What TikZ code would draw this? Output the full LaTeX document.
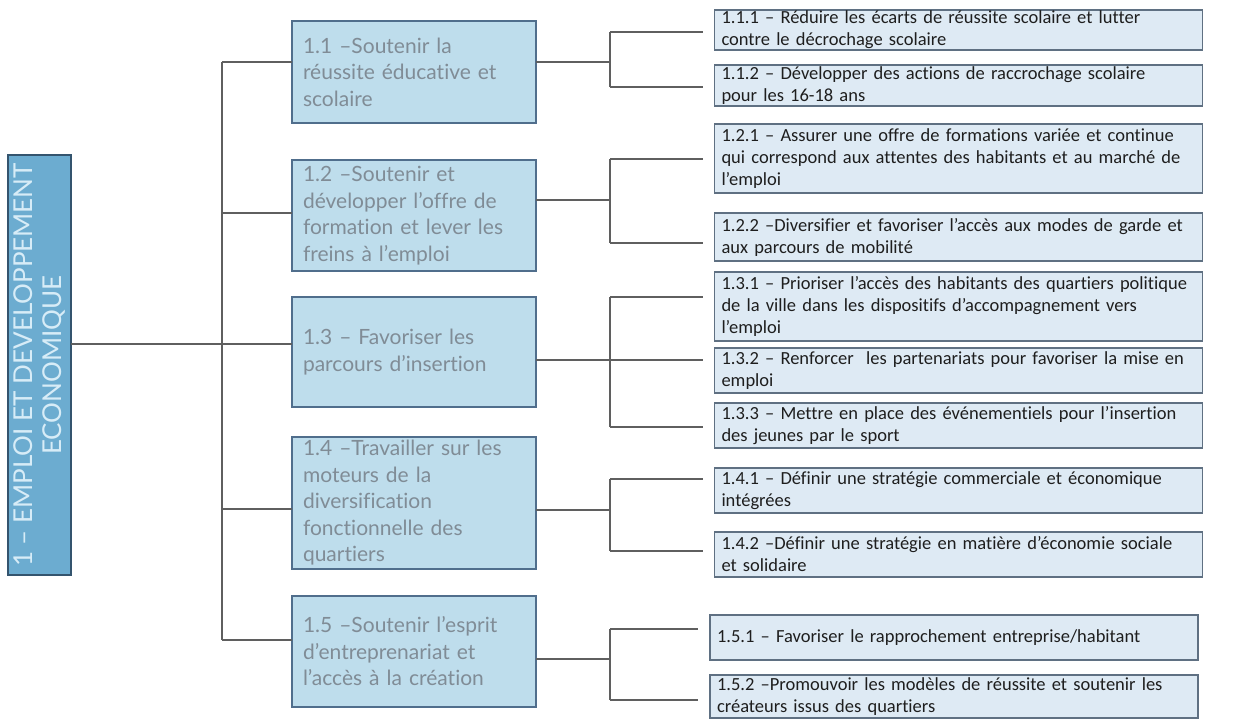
\documentclass[tikz,border=0pt]{standalone}
\usepackage{fontspec}
\newfontfamily\latof{Lato}[Ligatures=NoCommon]
\newfontfamily\carl{Carlito}[Ligatures=NoCommon]
\definecolor{rootfill}{RGB}{108,172,208}
\definecolor{rootdraw}{RGB}{52,84,110}
\definecolor{roottext}{RGB}{215,236,247}
\definecolor{midfill}{RGB}{190,221,236}
\definecolor{middraw}{RGB}{80,110,140}
\definecolor{midtext}{RGB}{128,140,150}
\definecolor{leaffill}{RGB}{222,234,244}
\definecolor{leafdraw}{RGB}{95,112,130}
\definecolor{leaftext}{RGB}{30,30,30}
\definecolor{linecol}{RGB}{95,95,95}
\tikzset{
 rootbox/.style={draw=rootdraw, fill=rootfill, line width=1.5pt, text=roottext,
   font=\latof\fontsize{26}{29}\selectfont, align=center, rotate=90, inner sep=0pt,
   outer sep=0pt, minimum width=420pt, minimum height=63pt},
 midbox/.style={draw=middraw, fill=midfill, line width=1.8pt, text=midtext,
   font=\latof\fontsize{21}{26.5}\selectfont, align=left, text width=222pt,
   inner xsep=11pt, inner ysep=0pt, outer sep=0pt},
 leafbox/.style={draw=leafdraw, fill=leaffill, line width=1.4pt, text=leaftext,
   font=\carl\fontsize{18.5}{22}\selectfont, align=left, text width=474pt,
   inner xsep=7pt, inner ysep=0pt, outer sep=0pt},
 conn/.style={draw=linecol, line width=1.1pt},
 gap/.style={shorten >=12pt},
}
\begin{document}
\begin{tikzpicture}[x=1pt,y=-1pt]
\useasboundingbox (0,0) rectangle (1236,720);
% root
\node[rootbox] (root) at (39.5,365) {1 – EMPLOI ET DEVELOPPEMENT\\ECONOMIQUE};
% middle level
\node[midbox, minimum height=102pt] (m11) at (414,72) {1.1 –Soutenir la\\réussite éducative et\\scolaire};
\node[midbox, minimum height=111pt] (m12) at (414,215.5) {1.2 –Soutenir et\\développer l’offre de\\formation et lever les\\freins à l’emploi};
\node[midbox, minimum height=110pt] (m13) at (414,352) {1.3 – Favoriser les\\parcours d’insertion};
\node[midbox, minimum height=132pt] (m14) at (414,503) {1.4 –Travailler sur les\\moteurs de la\\diversification\\fonctionnelle des\\quartiers};
\node[midbox, minimum height=111pt] (m15) at (414,651.5) {1.5 –Soutenir l’esprit\\d’entreprenariat et\\l’accès à la création};
% leaves
\node[leafbox, minimum height=40pt] (r111) at (958.5,30) {1.1.1 – Réduire les écarts de réussite scolaire et lutter\\contre le décrochage scolaire};
\node[leafbox, minimum height=41pt] (r112) at (958.5,85.5) {1.1.2 – Développer des actions de raccrochage scolaire\\pour les 16-18 ans};
\node[leafbox, minimum height=69pt] (r121) at (958.5,158.5) {1.2.1 – Assurer une offre de formations variée et continue\\qui correspond aux attentes des habitants et au marché de\\l’emploi};
\node[leafbox, minimum height=48pt] (r122) at (958.5,237) {1.2.2 –Diversifier et favoriser l’accès aux modes de garde et\\aux parcours de mobilité};
\node[leafbox, minimum height=69pt] (r131) at (958.5,306.5) {1.3.1 – Prioriser l’accès des habitants des quartiers politique\\de la ville dans les dispositifs d’accompagnement vers\\l’emploi};
\node[leafbox, minimum height=45pt] (r132) at (958.5,370.5) {1.3.2 – Renforcer\ \ les partenariats pour favoriser la mise en\\emploi};
\node[leafbox, minimum height=45pt] (r133) at (958.5,425.5) {1.3.3 – Mettre en place des événementiels pour l’insertion\\des jeunes par le sport};
\node[leafbox, minimum height=45pt] (r141) at (958.5,490.5) {1.4.1 – Définir une stratégie commerciale et économique\\intégrées};
\node[leafbox, minimum height=45pt] (r142) at (958.5,554.5) {1.4.2 –Définir une stratégie en matière d’économie sociale\\et solidaire};
\node[leafbox, minimum height=45pt] (r151) at (954,637.5) {1.5.1 – Favoriser le rapprochement entreprise/habitant};
\node[leafbox, minimum height=43pt] (r152) at (954,696.5) {1.5.2 –Promouvoir les modèles de réussite et soutenir les\\créateurs issus des quartiers};
% trunk
\coordinate (t0) at (222,344);
\coordinate (t1) at (222,62);
\coordinate (t2) at (222,213);
\coordinate (t3) at (222,344);
\coordinate (t4) at (222,509);
\coordinate (t5) at (222,640);
\draw[conn] (root.south |- t0) -- (t0);
\draw[conn] (t1) -- (t5);
\draw[conn] (t1) -- (m11.west |- t1);
\draw[conn] (t2) -- (m12.west |- t2);
\draw[conn] (t3) -- (m13.west |- t3);
\draw[conn] (t4) -- (m14.west |- t4);
\draw[conn] (t5) -- (m15.west |- t5);
% brackets
\coordinate (b1) at (610,62);
\coordinate (b2) at (610,200);
\coordinate (b3) at (610,360);
\coordinate (b4) at (610,510);
\coordinate (b5) at (610,659);
\coordinate (s111) at (610,32);
\coordinate (s112) at (610,87);
\coordinate (s121) at (610,159);
\coordinate (s122) at (610,243);
\coordinate (s131) at (610,297);
\coordinate (s132) at (610,360);
\coordinate (s133) at (610,427);
\coordinate (s141) at (610,479);
\coordinate (s142) at (610,551);
\coordinate (s151) at (610,629);
\coordinate (s152) at (610,700);
\draw[conn] (m11.east |- b1) -- (b1);
\draw[conn] (m12.east |- b2) -- (b2);
\draw[conn] (m13.east |- b3) -- (b3);
\draw[conn] (m14.east |- b4) -- (b4);
\draw[conn] (m15.east |- b5) -- (b5);
\draw[conn] (s111) -- (s112);
\draw[conn] (s121) -- (s122);
\draw[conn] (s131) -- (s133);
\draw[conn] (s141) -- (s142);
\draw[conn] (s151) -- (s152);
\draw[conn, gap] (s111) -- (s111 -| r111.west);
\draw[conn, gap] (s112) -- (s112 -| r112.west);
\draw[conn, gap] (s121) -- (s121 -| r121.west);
\draw[conn, gap] (s122) -- (s122 -| r122.west);
\draw[conn, gap] (s131) -- (s131 -| r131.west);
\draw[conn, gap] (s132) -- (s132 -| r132.west);
\draw[conn, gap] (s133) -- (s133 -| r133.west);
\draw[conn, gap] (s141) -- (s141 -| r141.west);
\draw[conn, gap] (s142) -- (s142 -| r142.west);
\draw[conn, gap] (s151) -- (s151 -| r151.west);
\draw[conn, gap] (s152) -- (s152 -| r152.west);
\end{tikzpicture}
\end{document}
